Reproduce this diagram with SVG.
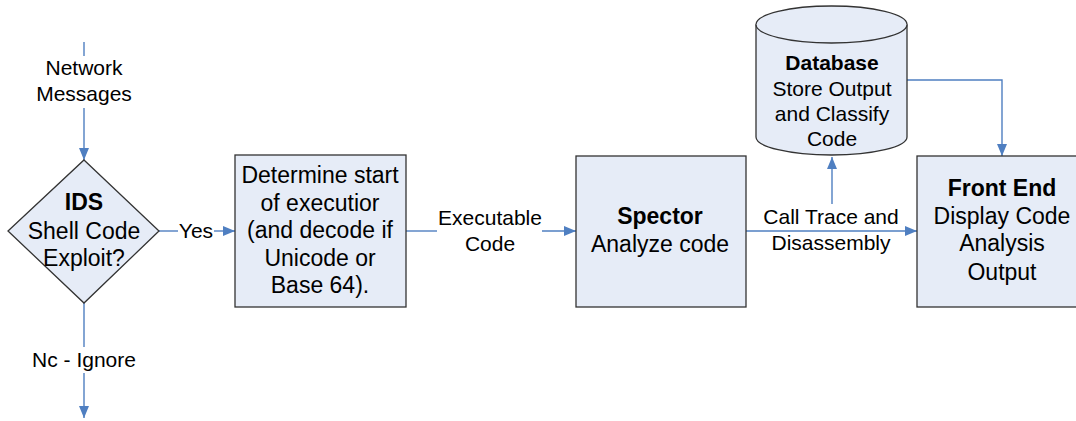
<svg xmlns="http://www.w3.org/2000/svg" width="1076" height="421" viewBox="0 0 1076 421">
  <style>
    .node { fill: #E6ECF7; stroke: #333; stroke-width: 1.3; }
    .edge { fill: none; stroke: #4F7FC1; stroke-width: 1.4; }
    text { font-family: "Liberation Sans", Arial, sans-serif; fill: #000; text-anchor: middle; }
    .t23 { font-size: 23px; }
    .t21 { font-size: 21px; }
    .b { font-weight: bold; }
  </style>
  <defs>
    <marker id="arrow" viewBox="0 0 12 10" refX="12" refY="5" markerWidth="12" markerHeight="10" markerUnits="userSpaceOnUse" orient="auto">
      <path d="M0,0 L12,5 L0,10 Z" fill="#4F7FC1"/>
    </marker>
    <clipPath id="clipDet"><rect x="235" y="155" width="171" height="152"/></clipPath>
    <clipPath id="clipSpec"><rect x="576" y="156" width="170" height="151"/></clipPath>
  </defs>

  <rect width="1076" height="421" fill="#fff"/>

  <!-- connectors -->
  <g id="connectors">
    <line class="edge" x1="84" y1="42" x2="84" y2="56"/>
    <line class="edge" x1="84" y1="108" x2="84" y2="160" marker-end="url(#arrow)"/>
    <line class="edge" x1="84" y1="303" x2="84" y2="347"/>
    <line class="edge" x1="84" y1="373" x2="84" y2="418" marker-end="url(#arrow)"/>
    <line class="edge" x1="159" y1="231" x2="178" y2="231"/>
    <line class="edge" x1="214" y1="231" x2="235" y2="231" marker-end="url(#arrow)"/>
    <line class="edge" x1="406" y1="231" x2="437" y2="231"/>
    <line class="edge" x1="542" y1="231" x2="576" y2="231" marker-end="url(#arrow)"/>
    <line class="edge" x1="746" y1="231" x2="917" y2="231" marker-end="url(#arrow)"/>
    <line class="edge" x1="832" y1="205" x2="832" y2="157" marker-end="url(#arrow)"/>
    <polyline class="edge" points="907,80 1002,80 1002,156" marker-end="url(#arrow)"/>
    <text class="t21" x="84" y="75">Network</text>
    <text class="t21" x="84" y="101">Messages</text>
    <text class="t21" x="84" y="367">Nc - Ignore</text>
    <text class="t21" x="196" y="238">Yes</text>
    <text class="t21" x="490" y="225">Executable</text>
    <text class="t21" x="490" y="251">Code</text>
    <rect x="760" y="204" width="144" height="26" fill="#fff"/>
    <text class="t21" x="831" y="224">Call Trace and</text>
    <text class="t21" x="831" y="250">Disassembly</text>
  </g>

  <!-- IDS decision -->
  <g id="ids">
    <polygon class="node" points="84,160 159,231 84,303 8,231"/>
    <text class="t23 b" x="84" y="210">IDS</text>
    <text class="t23" x="84" y="239">Shell Code</text>
    <text class="t23" x="84" y="266">Exploit?</text>
  </g>

  <!-- Determine start of execution -->
  <g id="determine">
    <rect class="node" x="235" y="155" width="171" height="152"/>
    <g clip-path="url(#clipDet)">
      <text class="t23" x="320" y="183">Determine start</text>
      <text class="t23" x="320" y="211">of executior</text>
      <text class="t23" x="320" y="238">(and decode if</text>
      <text class="t23" x="320" y="266">Unicode or</text>
      <text class="t23" x="320" y="293">Base 64).</text>
    </g>
  </g>

  <!-- Spector -->
  <g id="spector">
    <rect class="node" x="576" y="156" width="170" height="151"/>
    <g clip-path="url(#clipSpec)">
      <text class="t23 b" x="660" y="224">Spector</text>
      <text class="t23" x="660" y="252">Analyze code</text>
    </g>
  </g>

  <!-- Database -->
  <g id="database">
    <path class="node" d="M756,24.5 L756,137 A75.5,18 0 0 0 907,137 L907,24.5 A75.5,18.5 0 0 0 756,24.5 Z"/>
    <path class="node" fill="none" d="M756,24.5 A75.5,18.5 0 0 0 907,24.5"/>
    <text class="t21 b" x="832" y="70">Database</text>
    <text class="t21" x="832" y="96">Store Output</text>
    <text class="t21" x="832" y="121">and Classify</text>
    <text class="t21" x="832" y="146">Code</text>
  </g>

  <!-- Front End -->
  <g id="frontend">
    <rect class="node" x="917" y="156" width="170" height="151"/>
    <text class="t23 b" x="1002" y="196">Front End</text>
    <text class="t23" x="1002" y="224">Display Code</text>
    <text class="t23" x="1002" y="251">Analysis</text>
    <text class="t23" x="1002" y="280">Output</text>
  </g>
</svg>
